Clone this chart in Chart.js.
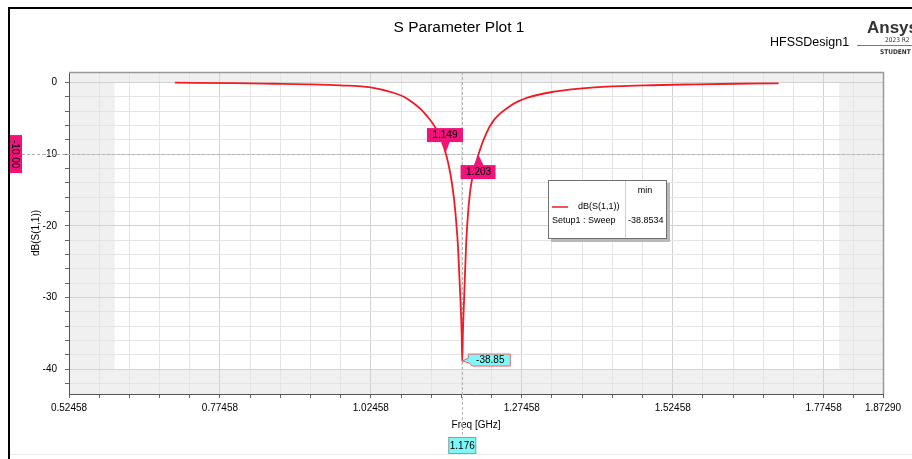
<!DOCTYPE html>
<html>
<head>
<meta charset="utf-8">
<script src="https://cdn.jsdelivr.net/npm/chart.js@4.4.1/dist/chart.umd.min.js"></script>
<style>
  html, body { margin: 0; padding: 0; background: #fff; }
  #wrap { position: relative; width: 912px; height: 459px; }
</style>
</head>
<body>
<div id="wrap"><canvas id="plot" width="912" height="459"></canvas></div>
<script>
// S11 sweep
const freqGHz = [0.700, 0.800, 0.863, 0.920, 0.974, 1.024, 1.062, 1.080, 1.096, 1.108,
                 1.118, 1.126, 1.134, 1.142, 1.149, 1.156, 1.162, 1.166, 1.169, 1.173,
                 1.175, 1.176, 1.177, 1.179, 1.182, 1.185, 1.190, 1.196, 1.203, 1.215,
                 1.228, 1.256, 1.284, 1.328, 1.395, 1.478, 1.561, 1.630, 1.700];
const s11dB   = [-0.05, -0.12, -0.20, -0.28, -0.42, -0.70, -1.45, -2.05, -2.95, -3.80,
                 -4.75, -5.60, -6.70, -8.20, -10.00, -12.60, -16.00, -19.50, -23.00, -30.30,
                 -35.00, -38.85, -35.00, -30.30, -23.40, -18.90, -14.60, -12.20, -10.00, -7.25,
                 -5.30, -3.26, -2.14, -1.30, -0.70, -0.42, -0.28, -0.20, -0.14];

const xMajorLabels = ['0.52458', '0.77458', '1.02458', '1.27458', '1.52458', '1.77458', '1.87290'];
const yMajorLabels = [0, -10, -20, -30, -40];

const markerFreqs = ['1.149', '1.203'];
const markerLevel = -10;
const minFreq = 1.176;
const minDb = -38.85;
const legendMin = '-38.8534';

const X_MIN = 0.52458, X_MAX = 1.87290;
const Y_MIN = -43.44, Y_MAX = 1.44;

const xTicks = [];
for (let k = 0; k <= 26; k++) xTicks.push(+(X_MIN + k * 0.05).toFixed(5));
xTicks.push(X_MAX);
const yTicks = [];
for (let v = 0; v >= -42; v -= 2) yTicks.push(v);

const isMajorX = (v) => xMajorLabels.some((l) => Math.abs(parseFloat(l) - v) < 1e-6);
const isMajorY = (v) => yMajorLabels.includes(v);

const FONT = 'Liberation Sans, Arial, sans-serif';
const PINK = '#f0137a';
const CYAN = '#7ff7f7';

function box(ctx, x, y, w, h, fill, stroke) {
  ctx.fillStyle = fill;
  ctx.fillRect(x, y, w, h);
  if (stroke) {
    ctx.strokeStyle = stroke;
    ctx.lineWidth = 1;
    ctx.strokeRect(x + 0.5, y + 0.5, w - 1, h - 1);
  }
}

function text(ctx, s, x, y, size, opts = {}) {
  ctx.font = (opts.bold ? 'bold ' : '') + size + 'px ' + (opts.family || FONT);
  ctx.fillStyle = opts.color || '#000';
  ctx.textAlign = opts.align || 'center';
  ctx.textBaseline = 'middle';
  ctx.fillText(s, x, y);
}

const hfssDecor = {
  id: 'hfssDecor',
  beforeDraw(chart) {
    const { ctx, chartArea: a, scales: { x, y } } = chart;
    ctx.save();
    ctx.fillStyle = '#f0f0f0';
    ctx.fillRect(a.left, a.top, a.right - a.left, a.bottom - a.top);
    const l = x.getPixelForValue(0.6), r = x.getPixelForValue(1.8);
    const t = y.getPixelForValue(0), b = y.getPixelForValue(-40);
    ctx.fillStyle = '#ffffff';
    ctx.fillRect(l, t, r - l, b - t);
    ctx.restore();
  },
  beforeDatasetsDraw(chart) {
    const { ctx, chartArea: a, scales: { x, y } } = chart;
    ctx.save();
    ctx.strokeStyle = '#b4b4b4';
    ctx.lineWidth = 1;
    ctx.setLineDash([3, 2]);
    const py = Math.round(y.getPixelForValue(markerLevel)) + 0.5;
    ctx.beginPath(); ctx.moveTo(22, py); ctx.lineTo(a.right, py); ctx.stroke();
    const px = Math.round(x.getPixelForValue(minFreq)) + 0.5;
    ctx.beginPath(); ctx.moveTo(px, a.top); ctx.lineTo(px, 437); ctx.stroke();
    ctx.restore();
  },
  afterDraw(chart) {
    const { ctx, chartArea: a, scales: { x, y } } = chart;
    ctx.save();

    // plot frame (top / right)
    ctx.strokeStyle = '#999';
    ctx.lineWidth = 1.5;
    ctx.beginPath();
    ctx.moveTo(a.left, a.top + 0.5); ctx.lineTo(a.right + 0.5, a.top + 0.5); ctx.lineTo(a.right + 0.5, a.bottom);
    ctx.stroke();

    // -10 dB markers on the curve
    const py = y.getPixelForValue(markerLevel);
    const p1 = x.getPixelForValue(parseFloat(markerFreqs[0]));
    ctx.fillStyle = PINK;
    box(ctx, p1 - 19, py - 26, 36, 14, PINK);
    ctx.beginPath(); ctx.moveTo(p1 - 4, py - 12.5); ctx.lineTo(p1 + 4, py - 12.5); ctx.lineTo(p1, py - 2); ctx.closePath(); ctx.fill();
    text(ctx, markerFreqs[0], p1 - 1, py - 19, 10);

    const p2 = x.getPixelForValue(parseFloat(markerFreqs[1]));
    box(ctx, p2 - 18, py + 11, 35, 14, PINK);
    ctx.fillStyle = PINK;
    ctx.beginPath(); ctx.moveTo(p2 - 5, py + 11.5); ctx.lineTo(p2 + 5, py + 11.5); ctx.lineTo(p2, py + 1); ctx.closePath(); ctx.fill();
    text(ctx, markerFreqs[1], p2, py + 18, 10);

    // y-axis marker label
    box(ctx, 8, py - 19, 14, 38, PINK);
    ctx.save();
    ctx.translate(15, py);
    ctx.rotate(Math.PI / 2);
    text(ctx, markerLevel.toFixed(2), 0, 0, 10);
    ctx.restore();

    // minimum marker
    const mx = x.getPixelForValue(minFreq), my = y.getPixelForValue(minDb);
    ctx.beginPath();
    ctx.moveTo(mx + 6, my - 7); ctx.lineTo(mx + 48, my - 7); ctx.lineTo(mx + 48, my + 5);
    ctx.lineTo(mx + 10, my + 5); ctx.lineTo(mx + 7, my + 2); ctx.lineTo(mx, my); ctx.lineTo(mx + 6, my - 3);
    ctx.closePath();
    ctx.fillStyle = CYAN; ctx.fill();
    ctx.strokeStyle = '#f06070'; ctx.lineWidth = 1; ctx.stroke();
    text(ctx, minDb.toFixed(2), mx + 28, my - 1, 10);

    // x-axis marker label
    box(ctx, mx - 14, 437, 28, 17, CYAN, '#9a9a9a');
    text(ctx, String(minFreq), mx, 446, 10);

    // trace legend
    ctx.fillStyle = '#b8b8b8';
    ctx.fillRect(551, 183, 119, 59);
    box(ctx, 548, 180, 119, 59, '#fff', '#707070');
    ctx.strokeStyle = '#cfcfcf';
    ctx.beginPath(); ctx.moveTo(625.5, 181); ctx.lineTo(625.5, 238); ctx.stroke();
    text(ctx, 'min', 645, 191, 9);
    ctx.strokeStyle = '#ee1c25'; ctx.lineWidth = 1.5;
    ctx.beginPath(); ctx.moveTo(552, 207); ctx.lineTo(568, 207); ctx.stroke();
    text(ctx, 'dB(S(1,1))', 578, 207, 9, { align: 'left' });
    text(ctx, 'Setup1 : Sweep', 552, 221, 9, { align: 'left' });
    text(ctx, legendMin, 628, 221, 9, { align: 'left' });

    // header texts
    text(ctx, 'S Parameter Plot 1', 459, 28, 15.5);
    text(ctx, 'HFSSDesign1', 770, 43, 12.5, { align: 'left' });
    text(ctx, 'Ansys', 867, 28, 17, { align: 'left', bold: true, color: '#333' });
    ctx.strokeStyle = '#777'; ctx.lineWidth = 1;
    ctx.beginPath(); ctx.moveTo(857, 45.5); ctx.lineTo(912, 45.5); ctx.stroke();
    text(ctx, '2023 R2', 885, 40, 6.5, { align: 'left', color: '#333', family: 'DejaVu Sans Condensed, sans-serif' });
    text(ctx, 'STUDENT', 880, 52, 6.5, { align: 'left', bold: true, color: '#333', family: 'DejaVu Sans Condensed, sans-serif' });

    // outer frame
    ctx.strokeStyle = '#000'; ctx.lineWidth = 2;
    ctx.beginPath(); ctx.moveTo(9, 459); ctx.lineTo(9, 8); ctx.lineTo(912, 8); ctx.stroke();
    ctx.strokeStyle = '#ececec'; ctx.lineWidth = 1;
    ctx.beginPath(); ctx.moveTo(10, 454.5); ctx.lineTo(912, 454.5); ctx.stroke();

    ctx.restore();
  },
};

new Chart(document.getElementById('plot'), {
  type: 'line',
  data: {
    datasets: [{
      label: 'dB(S(1,1))',
      data: freqGHz.map((f, i) => ({ x: f, y: s11dB[i] })),
      borderColor: '#ee1c25',
      borderWidth: 1.8,
      pointRadius: 0,
      fill: false,
      cubicInterpolationMode: 'monotone',
    }],
  },
  options: {
    responsive: false,
    animation: false,
    devicePixelRatio: 1,
    layout: { padding: { top: 72, right: 29, left: 0, bottom: 0 } },
    plugins: { legend: { display: false }, tooltip: { enabled: false }, title: { display: false } },
    scales: {
      x: {
        type: 'linear',
        min: X_MIN,
        max: X_MAX,
        afterBuildTicks: (axis) => { axis.ticks = xTicks.map((v) => ({ value: v })); },
        afterFit: (scale) => { scale.height = 65; },
        ticks: {
          autoSkip: false,
          maxRotation: 0,
          padding: 4,
          color: '#000',
          font: { family: FONT, size: 10 },
          callback: (v) => (isMajorX(v) ? xMajorLabels.find((l) => Math.abs(parseFloat(l) - v) < 1e-6) : ''),
        },
        grid: {
          color: (c) => (c.tick && isMajorX(c.tick.value) ? '#d2d2d2' : '#e4e4e4'),
          tickColor: '#666',
          tickLength: 4,
        },
        border: { color: '#555', width: 1 },
        title: { display: true, text: 'Freq [GHz]', color: '#000', font: { family: FONT, size: 10 }, padding: { top: 0, bottom: 28 } },
      },
      y: {
        type: 'linear',
        min: Y_MIN,
        max: Y_MAX,
        afterBuildTicks: (axis) => { axis.ticks = yTicks.map((v) => ({ value: v })); },
        afterFit: (scale) => { scale.width = 69; },
        ticks: {
          autoSkip: false,
          padding: 8,
          color: '#000',
          font: { family: FONT, size: 10 },
          callback: (v) => (isMajorY(v) ? String(v) : ''),
        },
        grid: {
          color: (c) => (c.tick && isMajorY(c.tick.value) ? '#d2d2d2' : '#e4e4e4'),
          tickColor: '#666',
          tickLength: 4,
        },
        border: { color: '#555', width: 1 },
        title: { display: true, text: 'dB(S(1,1))', color: '#000', font: { family: FONT, size: 10 }, padding: { top: 30.7, bottom: 0 } },
      },
    },
  },
  plugins: [hfssDecor],
});
</script>
</body>
</html>
